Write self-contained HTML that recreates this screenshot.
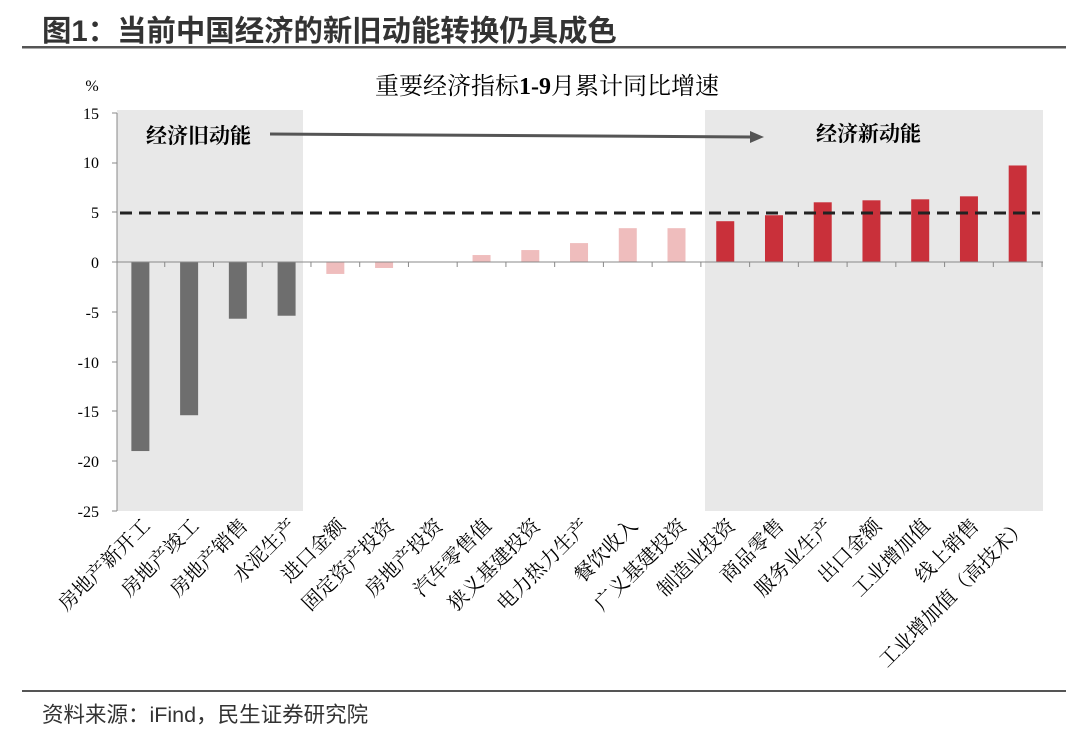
<!DOCTYPE html>
<html><head><meta charset="utf-8"><style>
body{margin:0;background:#fff;}
svg{display:block;}
.cjk{font-family:"Liberation Serif","Noto Serif CJK SC",serif;}
</style></head><body>
<svg width="1080" height="732" xmlns="http://www.w3.org/2000/svg">
<text x="42" y="41" font-family="Liberation Sans,'Noto Sans CJK SC',sans-serif" font-weight="bold" font-size="29.4" fill="#333">图1：当前中国经济的新旧动能转换仍具成色</text>
<rect x="22" y="46" width="1044" height="2.5" fill="#555"/>
<rect x="117" y="110" width="186" height="401" fill="#e8e8e8"/>
<rect x="705" y="110" width="338" height="401" fill="#e8e8e8"/>
<text x="92" y="91" class="cjk" font-size="16" text-anchor="middle">%</text>
<text x="547" y="94" class="cjk" font-size="24" text-anchor="middle">重要经济指标<tspan font-weight="bold">1-9</tspan>月累计同比增速</text>
<g class="cjk" font-size="16" text-anchor="end" fill="#000">
<text x="99" y="119">15</text><text x="99" y="168">10</text><text x="99" y="218">5</text><text x="99" y="268">0</text><text x="99" y="318">-5</text><text x="99" y="368">-10</text><text x="99" y="417">-15</text><text x="99" y="467">-20</text><text x="99" y="517">-25</text>
</g>
<line x1="117" y1="113" x2="117" y2="511" stroke="#888"/>
<g stroke="#888"><line x1="112" y1="113" x2="117" y2="113"/><line x1="112" y1="163" x2="117" y2="163"/><line x1="112" y1="212" x2="117" y2="212"/><line x1="112" y1="262" x2="117" y2="262"/><line x1="112" y1="312" x2="117" y2="312"/><line x1="112" y1="362" x2="117" y2="362"/><line x1="112" y1="411" x2="117" y2="411"/><line x1="112" y1="461" x2="117" y2="461"/><line x1="112" y1="511" x2="117" y2="511"/></g>
<g id="bars"></g>
<line x1="117" y1="262" x2="1043" y2="262" stroke="#888"/>
<g id="ticks" stroke="#888"></g>
<line x1="120" y1="213" x2="1040" y2="213" stroke="#222" stroke-width="3" stroke-dasharray="12,7"/>
<text x="146" y="143" class="cjk" font-size="21" font-weight="bold">经济旧动能</text>
<text x="816" y="141" class="cjk" font-size="21" font-weight="bold">经济新动能</text>
<line x1="270" y1="134" x2="752" y2="137" stroke="#555" stroke-width="3"/>
<polygon points="764,137 750,131 750,143" fill="#555"/>
<g id="labels" class="cjk" font-size="20"></g>
<text x="42" y="722" font-family="Liberation Sans,'Noto Sans CJK SC',sans-serif" font-size="21.5" fill="#333">资料来源：iFind，民生证券研究院</text>
<rect x="22" y="690" width="1044" height="2" fill="#555"/>
</svg>
<script>
const ns="http://www.w3.org/2000/svg";
const names=["房地产新开工","房地产竣工","房地产销售","水泥生产","进口金额","固定资产投资","房地产投资","汽车零售值","狭义基建投资","电力热力生产","餐饮收入","广义基建投资","制造业投资","商品零售","服务业生产","出口金额","工业增加值","线上销售","工业增加值（高技术）"];
const vals=[-19,-15.4,-5.7,-5.4,-1.2,-0.6,0,0.7,1.2,1.9,3.4,3.4,4.1,4.7,6.0,6.2,6.3,6.6,9.7];
const x0=116,w=48.74,y0=262,k=9.95;
const bars=document.getElementById("bars"),ticks=document.getElementById("ticks"),labels=document.getElementById("labels");
vals.forEach((v,i)=>{
 const cx=x0+(i+0.5)*w;
 const c=i<4?"#6e6e6e":(i<12?"#efbdbd":"#c9303a");
 const r=document.createElementNS(ns,"rect");
 const h=Math.abs(v)*k;
 r.setAttribute("x",cx-9);r.setAttribute("width",18);
 r.setAttribute("y",v>=0?y0-h:y0);r.setAttribute("height",Math.max(h,0.01));
 r.setAttribute("fill",c);bars.appendChild(r);
 const t=document.createElementNS(ns,"line");const tx=x0+(i+1)*w;
 t.setAttribute("x1",tx);t.setAttribute("x2",tx);t.setAttribute("y1",262);t.setAttribute("y2",267);ticks.appendChild(t);
 const l=document.createElementNS(ns,"text");
 l.setAttribute("transform",`translate(${cx+11},${527}) rotate(-45)`);
 l.setAttribute("text-anchor","end");l.textContent=names[i];labels.appendChild(l);
});
</script>
</body></html>
